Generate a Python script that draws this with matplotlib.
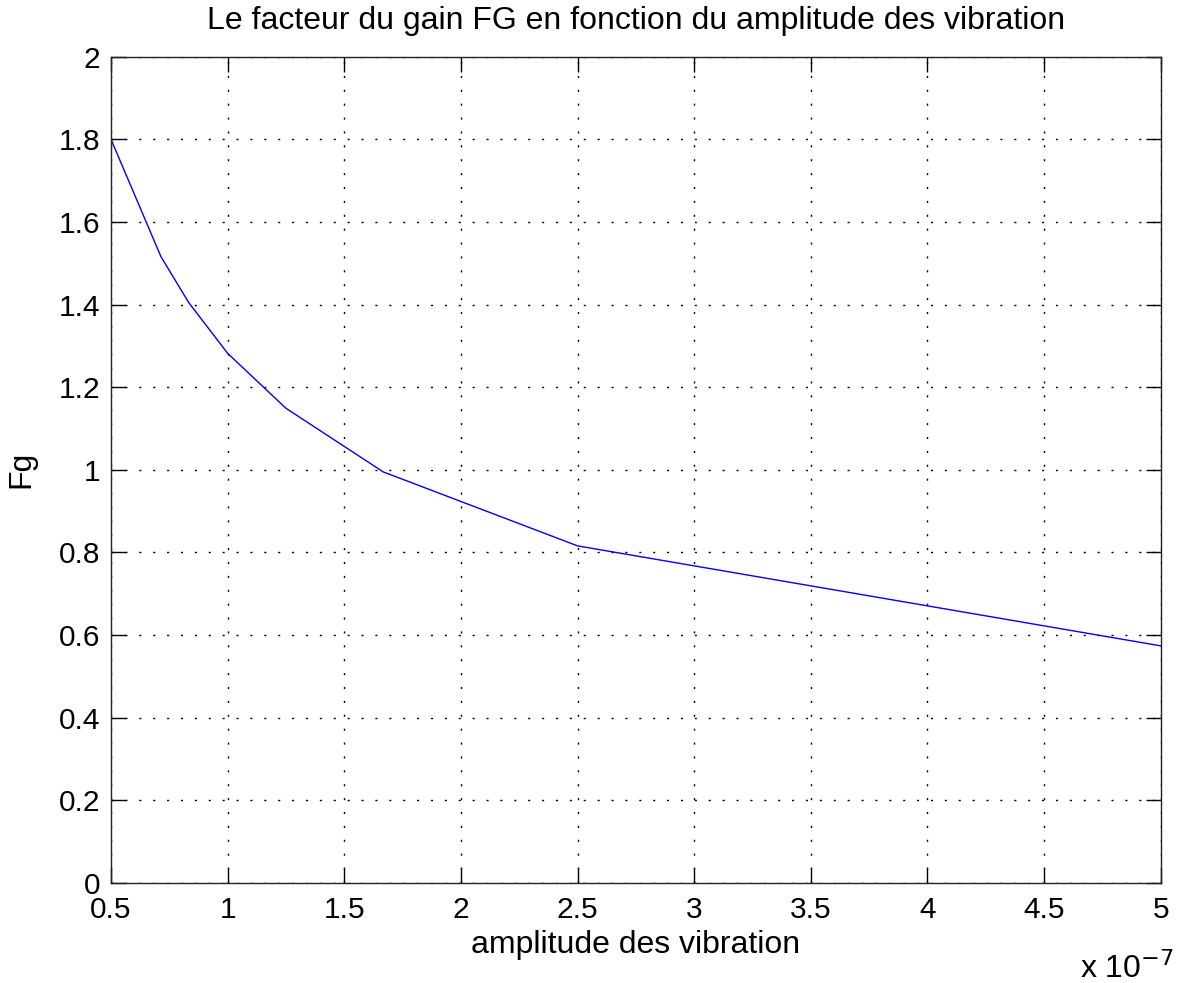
import matplotlib
matplotlib.use("Agg")
import matplotlib.pyplot as plt
import numpy as np

# Data (amplitude in metres, gain factor)
amplitude = [0.5e-7, 0.714e-7, 0.833e-7, 1.0e-7, 1.25e-7, 1.667e-7, 2.5e-7, 5.0e-7]
fg = [1.80, 1.516, 1.405, 1.282, 1.149, 0.995, 0.816, 0.574]
x_ticks = [0.5, 1, 1.5, 2, 2.5, 3, 3.5, 4, 4.5, 5]
x_ticklabels = ["0.5", "1", "1.5", "2", "2.5", "3", "3.5", "4", "4.5", "5"]
y_ticks = [0, 0.2, 0.4, 0.6, 0.8, 1, 1.2, 1.4, 1.6, 1.8, 2]
y_ticklabels = ["0", "0.2", "0.4", "0.6", "0.8", "1", "1.2", "1.4", "1.6", "1.8", "2"]
scale = 1e-7

plt.rcParams['font.family'] = ['Liberation Sans', 'DejaVu Sans']
fs_tick = 21.5
fs_lab = 23

fig = plt.figure(figsize=(11.86, 9.83), dpi=100)
ax = fig.add_axes([111/1186, 1-883/983, (1160.7-111)/1186, (883-56.7)/983])

x = np.array(amplitude) / scale
ax.plot(x, fg, color=(0, 0, 1), lw=1.0)

ax.set_xlim(0.5, 5)
ax.set_ylim(0, 2)
ax.set_xticks(x_ticks)
ax.set_xticklabels(x_ticklabels)
ax.set_yticks(y_ticks)
ax.set_yticklabels(y_ticklabels)
ax.tick_params(direction='in', length=11, width=1, top=True, right=True,
               labelsize=fs_tick, colors='black')
ax.tick_params(axis='x', pad=9)
ax.tick_params(axis='y', pad=8)
for s in ax.spines.values():
    s.set_linewidth(1.0)
    s.set_color('#222222')
ax.grid(True, color='black', linestyle=(0, (1.5, 8.5)), lw=1.0)

ax.set_title("Le facteur du gain FG en fonction du amplitude des vibration",
             fontsize=fs_lab, pad=20)
ax.set_xlabel("amplitude des vibration", fontsize=fs_lab, labelpad=5)
ax.set_ylabel("Fg", fontsize=fs_lab, labelpad=16)
fig.text(1080/1186, 1-978/983, r"x 10$^{-7}$", fontsize=fs_lab, ha='left', va='baseline')

fig.savefig("out.png", dpi=100)
